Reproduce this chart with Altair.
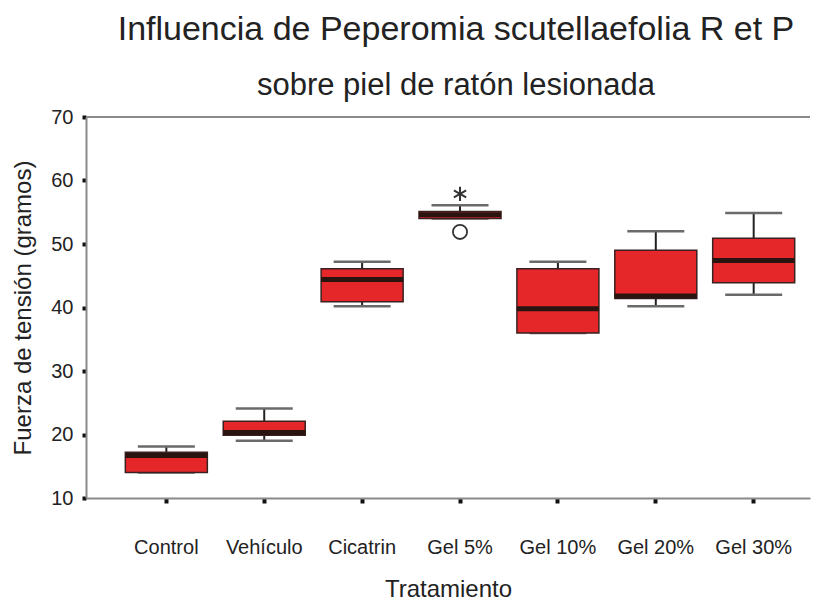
import json
import altair as alt
import pandas as pd

categories = ["Control", "Vehículo", "Cicatrin", "Gel 5%", "Gel 10%", "Gel 20%", "Gel 30%"]
whisker_low = [14.0, 19.0, 40.2, 54.0, 36.0, 40.2, 42.0]
q1 = [14.0, 19.9, 40.9, 54.0, 36.0, 41.4, 43.9]
median = [16.7, 20.3, 44.4, 54.6, 39.8, 41.8, 47.4]
q3 = [17.2, 22.1, 46.1, 55.1, 46.1, 49.0, 50.9]
whisker_high = [18.1, 24.1, 47.2, 56.1, 47.2, 52.0, 54.9]

extreme_cat = ["Gel 5%"]
extreme_val = [57.9]
outlier_cat = ["Gel 5%"]
outlier_val = [51.9]

y_ticks = [10, 20, 30, 40, 50, 60, 70]

FONT = "Liberation Sans"

box = pd.DataFrame({
    "cat": categories, "lo": whisker_low, "q1": q1, "med": median,
    "q3": q3, "hi": whisker_high,
})
ext = pd.DataFrame({"cat": extreme_cat, "v": extreme_val})
out = pd.DataFrame({"cat": outlier_cat, "v": outlier_val})

xscale = alt.Scale(domain=categories, paddingInner=0, paddingOuter=0.198, align=0.81)
yscale = alt.Scale(domain=[10, 70], nice=False, zero=False)

xaxis = alt.Axis(
    title="Tratamiento", labelFont=FONT, labelFontSize=20, labelColor="#222",
    labelPadding=34, labelAngle=0, tickSize=5, tickWidth=4, tickColor="#111",
    domainColor="#8a8a8a", domainWidth=2, titleFont=FONT, titleFontSize=24,
    titleFontWeight="normal", titleColor="#222", titlePadding=20,
)
yaxis = alt.Axis(
    title="Fuerza de tensión (gramos)", values=y_ticks, labelFont=FONT,
    labelFontSize=20, labelColor="#222", labelPadding=9, labelFlush=False,
    tickSize=4, tickWidth=4, tickColor="#111", domainColor="#8a8a8a",
    domainWidth=2, grid=False, titleFont=FONT, titleFontSize=24,
    titleFontWeight="normal", titleColor="#222", titlePadding=15,
)

base = alt.Chart(box)
X = alt.X("cat:N", scale=xscale, axis=xaxis, sort=categories)
Xn = alt.X("cat:N", scale=xscale, sort=categories)

whisk = base.mark_rule(color="#222", strokeWidth=2, opacity=1).encode(
    x=X, y=alt.Y("lo:Q", scale=yscale, axis=yaxis), y2="hi:Q")
caps_hi = base.mark_tick(color="#6a6a6a", size=57, thickness=2.5, orient="horizontal", opacity=1).encode(
    x=Xn, y="hi:Q")
caps_lo = base.mark_tick(color="#6a6a6a", size=57, thickness=2.5, orient="horizontal", opacity=1).encode(
    x=Xn, y="lo:Q")
bars = base.mark_bar(width=82, color="#e5272a", stroke="#3a2020", strokeWidth=1.5, opacity=1).encode(
    x=Xn, y="q1:Q", y2="q3:Q")
med = base.mark_tick(color="#2a1410", size=82, thickness=5, orient="horizontal", opacity=1).encode(
    x=Xn, y="med:Q")
topline = alt.Chart(pd.DataFrame({"v": [70]})).mark_rule(color="#8a8a8a", strokeWidth=2).encode(
    y=alt.Y("v:Q"))

asterisk = alt.Chart(ext).mark_point(
    shape="M0,-1L0,1M-0.866,-0.5L0.866,0.5M-0.866,0.5L0.866,-0.5",
    size=200, stroke="#333", strokeWidth=2, filled=False, opacity=1,
).encode(x=Xn, y="v:Q")
circ = alt.Chart(out).mark_point(
    shape="circle", size=200, stroke="#333", strokeWidth=1.8, filled=False, opacity=1,
).encode(x=Xn, y="v:Q")

chart = alt.layer(whisk, caps_hi, caps_lo, bars, med, topline, asterisk, circ).properties(
    width=724, height=381,
    padding={"left": 3, "top": 5, "right": 0, "bottom": 0},
    background="white",
    title=alt.TitleParams(
        text="Influencia de Peperomia scutellaefolia R et P",
        subtitle="sobre piel de ratón lesionada",
        font=FONT, fontSize=34, fontWeight="normal", color="#222",
        subtitleFont=FONT, subtitleFontSize=31, subtitleColor="#222",
        subtitlePadding=24, offset=6, anchor="middle", dx=8,
    ),
).configure_view(stroke=None)

chart.save("out.html", embed_options={"renderer": "svg", "actions": False})
